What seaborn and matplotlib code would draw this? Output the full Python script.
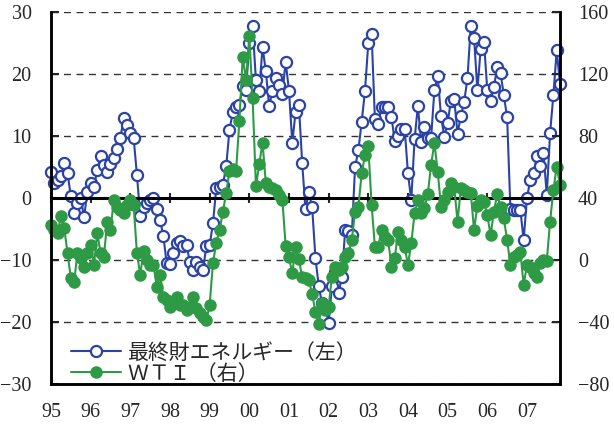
import matplotlib
matplotlib.use('Agg')
import matplotlib.pyplot as plt
import seaborn as sns
import numpy as np
import pandas as pd

# monthly data, Jan 1995 - Nov 2007
energy = [4.2, 2.4, 2.9, 3.5, 5.6, 4.0, 0.3, -2.4, -0.8, 0.0, -3.1, 1.0,
          2.4, 1.8, 4.5, 6.7, 5.3, 4.2, 5.5, 6.5, 7.9, 9.7, 12.9, 11.8,
          10.5, 9.7, 3.7, -2.9, -1.4, -0.8, -0.3, 0.0, -1.8, -3.5, -6.2, -10.5,
          -10.6, -8.9, -7.3, -7.0, -7.8, -7.6, -10.3, -11.6, -10.3, -11.1, -11.6, -7.8,
          -7.6, -4.1, 1.6, 1.8, 2.1, 5.1, 11.0, 13.9, 14.7, 15.0, 18.0, 17.4,
          25.0, 27.7, 19.0, 17.3, 24.3, 20.5, 14.8, 17.3, 19.3, 18.2, 16.8, 22.0,
          17.3, 8.9, 13.9, 15.0, 5.6, -1.8, 0.9, -1.4, -9.6, -14.2, -17.0, -17.5,
          -20.2, -14.2, -12.0, -15.4, -12.7, -5.2, -5.3, -6.0, 5.0, 7.7, 12.3, 17.3,
          25.0, 26.5, 12.7, 11.9, 14.7, 14.6, 14.7, 13.1, 9.2, 10.0, 11.2, 11.2,
          4.0, -0.4, 9.5, 14.8, 9.1, 11.5, 9.6, 9.7, 17.4, 19.7, 13.2, 9.9,
          12.1, 15.7, 15.9, 10.4, 13.2, 15.5, 19.3, 27.7, 25.8, 17.4, 24.0, 25.2,
          17.4, 15.7, 17.9, 21.1, 20.2, 16.6, 13.0, -1.8, -2.0, -1.9, -1.9, -6.8,
          0.0, 2.9, 4.0, 6.7, 5.2, 7.2, 0.5, 10.5, 16.6, 23.8, 18.4]

wti = [22.6, 19.4, 17.4, 28.4, 20.6, 4.5, -11.6, -14.0, 4.5, 1.3, -4.3, 4.5,
       9.7, -3.2, 17.4, 4.5, 2.1, 24.7, 19.4, 38.7, 34.0, 32.0, 30.5, 35.5,
       38.7, 35.5, 4.5, -9.7, 6.0, 0.0, -3.2, -3.2, -17.2, -9.7, -23.7, -25.8,
       -30.1, -27.0, -23.7, -29.0, -29.0, -32.3, -30.1, -23.7, -31.2, -34.0, -36.6, -38.7,
       -29.0, -2.1, 11.2, 19.4, 31.2, 43.0, 57.6, 58.5, 57.6, 89.9, 131.2, 116.1,
       144.5, 104.3, 47.7, 61.9, 75.7, 49.5, 47.3, 46.3, 45.2, 42.0, 38.7, 9.0,
       1.7, -8.6, 8.2, 0.4, -11.2, -11.8, -12.9, -21.9, -33.4, -41.3, -27.9, -32.3,
       -30.1, -10.8, -4.3, -6.5, -4.3, 2.1, 4.3, 12.9, 31.2, 34.4, 55.9, 67.7,
       73.5, 35.5, 8.6, 8.6, 19.4, 15.0, 12.9, -4.3, 1.1, 18.3, 12.9, 8.6,
       -3.2, 10.8, 30.1, 38.7, 30.1, 33.4, 42.6, 61.3, 75.7, 57.0, 34.4, 38.7,
       44.0, 49.5, 47.0, 24.7, 46.3, 45.0, 44.1, 43.4, 19.4, 35.0, 38.7, 37.6,
       29.0, 16.1, 31.2, 42.6, 34.0, 26.9, 12.9, -3.2, 2.1, 3.2, 5.4, -16.1,
       -3.2, -4.3, -8.6, -10.8, -2.0, 0.0, -0.5, 24.7, 45.2, 60.2, 48.4]

years = list(range(1995, 2008))
year_labels = ['95', '96', '97', '98', '99', '00', '01', '02', '03', '04', '05', '06', '07']
label_energy = '最終財エネルギー（左）'
label_wti = 'ＷＴＩ （右）'

df = pd.DataFrame({'t': 1995 + np.arange(len(energy)) / 12,
                   'energy': energy, 'wti': wti})

sns.set_style('white')
plt.rcParams['font.family'] = ['Liberation Serif', 'Noto Sans CJK JP']

blue = '#2b43a6'
green = '#2e9a45'

fig = plt.figure(figsize=(6.14, 4.25), dpi=100)
ax = fig.add_axes([51 / 614, 1 - 384 / 425, 509 / 614, 372 / 425])
ax2 = ax.twinx()

sns.lineplot(data=df, x='t', y='energy', ax=ax, color=blue, linewidth=1.5,
             marker='o', markersize=8, markerfacecolor='white',
             markeredgecolor=blue, markeredgewidth=1.6, label=label_energy,
             legend=False, clip_on=False)
sns.lineplot(data=df, x='t', y='wti', ax=ax2, color=green, linewidth=1.5,
             marker='o', markersize=9, markerfacecolor=green,
             markeredgecolor=green, markeredgewidth=0, label=label_wti,
             legend=False, clip_on=False)

ax.set_xlim(1995, 1995 + 154 / 12)
ax.set_ylim(-30, 30)
ax2.set_ylim(-80, 160)
ax.set_yticks(range(-30, 31, 10))
ax2.set_yticks(range(-80, 161, 40))
ax.set_xticks(years)
ax.set_xticklabels(year_labels)
ax.set_xlabel('')
ax.set_ylabel('')
ax2.set_ylabel('')

ax.yaxis.grid(True, linestyle=(0, (5, 4)), color='#333333', linewidth=1)
ax.xaxis.grid(False)
ax2.grid(False)

for s in ['left', 'right', 'bottom']:
    ax.spines[s].set_color('black')
    ax.spines[s].set_linewidth(1.8)
    ax2.spines[s].set_color('black')
    ax2.spines[s].set_linewidth(1.8)
ax2.spines['top'].set_visible(False)
# zero line carries the year ticks too
ax.spines['top'].set_position(('data', 0))
ax.spines['top'].set_color('black')
ax.spines['top'].set_linewidth(2.2)

ax.tick_params(axis='y', direction='in', length=6, width=1.5, labelsize=14.5, pad=14)
ax.tick_params(axis='x', direction='in', length=5, width=1.5, labelsize=14.5,
               pad=14, top=True, labeltop=False)
ax2.tick_params(axis='y', direction='in', length=6, width=1.5, labelsize=14.5, pad=13)
for t in ax.xaxis.get_major_ticks():
    t.tick2line.set_marker('|')
    t.tick2line.set_markersize(7)

h1, l1 = ax.get_legend_handles_labels()
h2, l2 = ax2.get_legend_handles_labels()
ax2.legend(h1 + h2, l1 + l2, loc='lower left', bbox_to_anchor=(0.015, -0.035),
           frameon=False, fontsize=15, handlelength=2.4, handletextpad=0.35,
           labelspacing=0.05, borderaxespad=0.2)

fig.savefig('out.png', dpi=100)
